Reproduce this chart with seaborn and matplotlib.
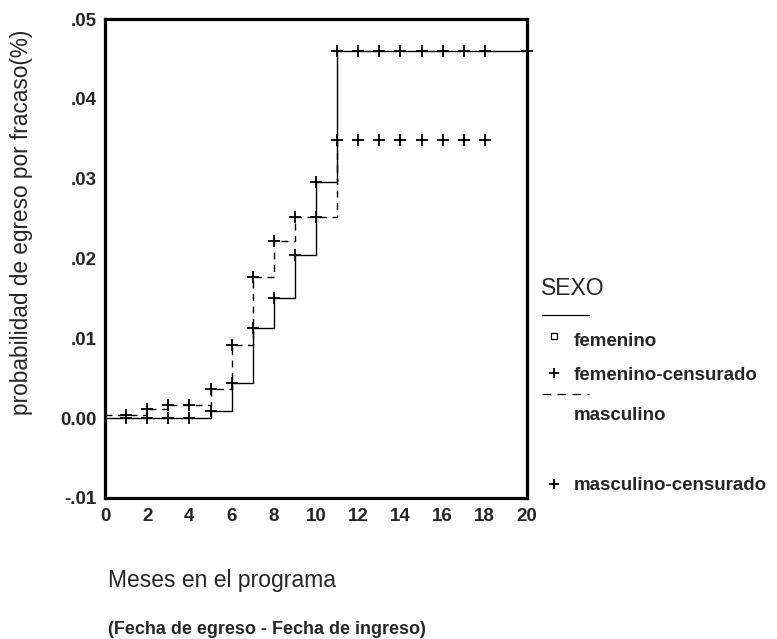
import matplotlib
matplotlib.use("Agg")
import matplotlib.pyplot as plt
from matplotlib.lines import Line2D
import seaborn as sns
import pandas as pd

# ---- data ----
fem_times = [0, 5, 6, 7, 8, 9, 10, 11, 20]
fem_vals = [0.0, 0.0009, 0.0044, 0.0113, 0.0150, 0.0204, 0.0296, 0.0460, 0.0460]

masc_times = [0, 2, 3, 5, 6, 7, 8, 9, 11]
masc_vals = [0.0004, 0.0012, 0.0016, 0.0036, 0.0092, 0.0177, 0.0222, 0.0252, 0.0349]

fem_cens_x = [1, 2, 3, 4, 5, 6, 7, 8, 9, 10, 11, 12, 13, 14, 15, 16, 17, 18, 20]
fem_cens_y = [0.0, 0.0, 0.0, 0.0, 0.0009, 0.0044, 0.0113, 0.0150, 0.0204, 0.0296,
              0.0460, 0.0460, 0.0460, 0.0460, 0.0460, 0.0460, 0.0460, 0.0460, 0.0460]

masc_cens_x = [1, 2, 3, 4, 5, 6, 7, 8, 9, 10, 11, 12, 13, 14, 15, 16, 17, 18]
masc_cens_y = [0.0004, 0.0012, 0.0016, 0.0016, 0.0036, 0.0092, 0.0177, 0.0222, 0.0252,
               0.0252, 0.0349, 0.0349, 0.0349, 0.0349, 0.0349, 0.0349, 0.0349, 0.0349]

x_ticks = [0, 2, 4, 6, 8, 10, 12, 14, 16, 18, 20]
y_ticks = [-0.01, 0.0, 0.01, 0.02, 0.03, 0.04, 0.05]
y_tick_labels = ["-.01", "0.00", ".01", ".02", ".03", ".04", ".05"]

legend_title = "SEXO"
legend_labels = ["femenino", "femenino-censurado", "masculino", "masculino-censurado"]
x_label = "Meses en el programa"
x_sublabel = "(Fecha de egreso - Fecha de ingreso)"
y_label = "probabilidad de egreso por fracaso(%)"

# ---- style ----
sns.set_style("white")
plt.rcParams["font.family"] = ["Liberation Sans", "DejaVu Sans"]

W, H = 777, 639
fig = plt.figure(figsize=(W / 100, H / 100), dpi=100)
L, R, T, B = 105, 527, 19, 498
ax = fig.add_axes([L / W, 1 - B / H, (R - L) / W, (B - T) / H])

fem_df = pd.DataFrame({"t": fem_times, "p": fem_vals})
masc_df = pd.DataFrame({"t": masc_times, "p": masc_vals})

sns.lineplot(data=fem_df, x="t", y="p", ax=ax, color="black", linewidth=1.0,
             drawstyle="steps-post", estimator=None, sort=False)
sns.lineplot(data=masc_df, x="t", y="p", ax=ax, color="black", linewidth=1.0,
             drawstyle="steps-post", estimator=None, sort=False,
             linestyle=(0, (5, 4)))

sns.scatterplot(x=fem_cens_x, y=fem_cens_y, ax=ax, marker="+", color="black",
                s=70, linewidth=1.3, clip_on=False, zorder=5)
sns.scatterplot(x=masc_cens_x, y=masc_cens_y, ax=ax, marker="+", color="black",
                s=70, linewidth=1.3, clip_on=False, zorder=5)

ax.set_xlim(0, 20)
ax.set_ylim(-0.01, 0.05)
ax.set_xticks(x_ticks)
ax.set_xticklabels([str(v) for v in x_ticks], fontsize=13.5, fontweight="bold")
ax.set_yticks(y_ticks)
ax.set_yticklabels(y_tick_labels, fontsize=13.5, fontweight="bold")
ax.tick_params(axis="both", direction="out", length=4, width=2.5, color="black", pad=2)
ax.tick_params(axis="x", pad=3)
ax.set_xlabel("")
ax.set_ylabel("")
for sp in ax.spines.values():
    sp.set_visible(True)
    sp.set_color("black")
    sp.set_linewidth(2.3)

# axis titles
fig.text(22 / W, 1 - 222 / H, y_label, rotation=90, ha="center", va="center",
         fontsize=16.3)
fig.text(108 / W, 1 - 580 / H, x_label, ha="left", va="center", fontsize=16.5)
fig.text(108 / W, 1 - 630 / H, x_sublabel, ha="left", va="center", fontsize=13,
         fontweight="bold")

# legend
def fx(x):
    return x / W

def fy(y):
    return 1 - y / H

fig.text(fx(541), fy(288), legend_title, ha="left", va="center", fontsize=16.5)
fig.add_artist(Line2D([fx(542), fx(589)], [fy(315), fy(315)], color="black",
                      linewidth=0.9, transform=fig.transFigure))
fig.add_artist(Line2D([fx(554)], [fy(336)], marker="s", markersize=4,
                      markerfacecolor="white", markeredgecolor="black",
                      markeredgewidth=0.9, linestyle="none",
                      transform=fig.transFigure))
fig.text(fx(574), fy(341), legend_labels[0], ha="left", va="center", fontsize=13.5,
         fontweight="bold")
fig.add_artist(Line2D([fx(554)], [fy(373)], marker="+", markersize=7,
                      color="black", markeredgewidth=1.3, linestyle="none",
                      transform=fig.transFigure))
fig.text(fx(574), fy(375), legend_labels[1], ha="left", va="center", fontsize=13.5,
         fontweight="bold")
fig.add_artist(Line2D([fx(542), fx(589)], [fy(394), fy(394)], color="black",
                      linewidth=0.9, linestyle=(0, (7, 5)),
                      transform=fig.transFigure))
fig.text(fx(574), fy(416), legend_labels[2], ha="left", va="center", fontsize=13.5,
         fontweight="bold")
fig.add_artist(Line2D([fx(554)], [fy(484)], marker="+", markersize=7,
                      color="black", markeredgewidth=1.3, linestyle="none",
                      transform=fig.transFigure))
fig.text(fx(574), fy(486), legend_labels[3], ha="left", va="center", fontsize=13.5,
         fontweight="bold")

fig.savefig("out.png", dpi=100)
